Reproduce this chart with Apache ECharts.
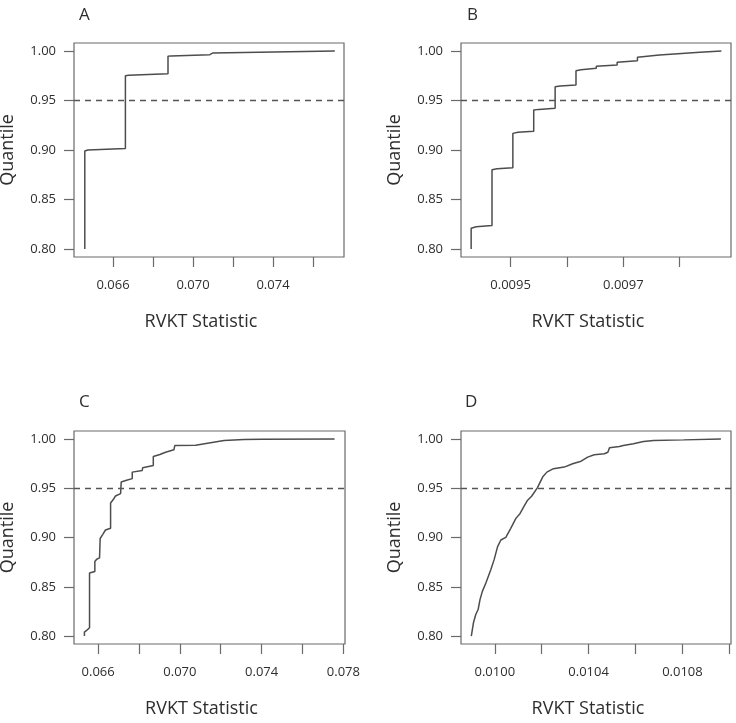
<!DOCTYPE html>
<html>
<head>
<meta charset="utf-8">
<script src="https://cdn.jsdelivr.net/npm/echarts@6/dist/echarts.min.js"></script>
<style>
  html, body { margin: 0; padding: 0; background: #fff; }
  #chart { width: 736px; height: 723px; }
</style>
</head>
<body>
<div id="chart"></div>
<script>
// RVKT statistic (x) against quantile (y), one pair of arrays per panel
const aStat = [0.06459, 0.06459, 0.06475, 0.06662, 0.06662, 0.06678, 0.06875, 0.06875, 0.06891, 0.07084, 0.07084, 0.0710, 0.07709];
const aQuant = [0.800, 0.899, 0.900, 0.9015, 0.975, 0.9755, 0.977, 0.9946, 0.995, 0.9962, 0.998, 0.998, 1.000];

const bStat = [0.00943, 0.00943, 0.009439, 0.009467, 0.009467, 0.009476, 0.009504, 0.009504, 0.009513, 0.009541,
  0.009541, 0.00955, 0.009579, 0.009579, 0.009588, 0.009616, 0.009616, 0.009625, 0.009652, 0.009652,
  0.009689, 0.009689, 0.009725, 0.009725, 0.009764, 0.009764, 0.009836, 0.009836, 0.009874];
const bQuant = [0.800, 0.821, 0.8225, 0.8237, 0.880, 0.881, 0.882, 0.9168, 0.918, 0.919,
  0.9404, 0.941, 0.9421, 0.9638, 0.9645, 0.9655, 0.980, 0.981, 0.9824, 0.9845,
  0.9858, 0.9885, 0.990, 0.9936, 0.9959, 0.997, 0.9987, 0.999, 1.000];

const cStat = [0.06533, 0.06533, 0.06545, 0.06558, 0.06558, 0.06584, 0.06584, 0.06593, 0.06607, 0.0661,
  0.06623, 0.06636, 0.06661, 0.06661, 0.06674, 0.06685, 0.0671, 0.06713, 0.06739, 0.06767,
  0.06767, 0.06816, 0.06818, 0.0687, 0.0687, 0.06902, 0.0693, 0.06971, 0.06975, 0.07077,
  0.07085, 0.07216, 0.07314, 0.0740, 0.07757];
const cQuant = [0.800, 0.804, 0.806, 0.8085, 0.864, 0.8655, 0.8756, 0.878, 0.8793, 0.899,
  0.9032, 0.9076, 0.9093, 0.935, 0.9385, 0.9421, 0.9445, 0.9563, 0.958, 0.9597,
  0.9663, 0.968, 0.9708, 0.973, 0.9822, 0.9842, 0.9865, 0.9889, 0.9932, 0.9935,
  0.995, 0.9983, 0.9993, 0.9997, 1.000];

const dStat = [0.0099, 0.009909, 0.009919, 0.009929, 0.009937, 0.009947, 0.009962, 0.009983, 0.009997, 0.010012,
  0.010026, 0.010047, 0.010068, 0.01009, 0.010108, 0.010125, 0.01014, 0.010157, 0.010182, 0.010204,
  0.010222, 0.01025, 0.010296, 0.010332, 0.010368, 0.010396, 0.010424, 0.010467, 0.010482, 0.010489,
  0.010531, 0.010548, 0.010591, 0.010634, 0.010677, 0.010805, 0.010964];
const dQuant = [0.800, 0.8135, 0.8219, 0.827, 0.837, 0.8454, 0.8538, 0.8672, 0.8773, 0.8907,
  0.8975, 0.9002, 0.9093, 0.9194, 0.9244, 0.9318, 0.9378, 0.9418, 0.9506, 0.9613,
  0.9663, 0.9698, 0.9714, 0.9748, 0.9774, 0.9815, 0.9839, 0.9849, 0.9865, 0.9909,
  0.9922, 0.9932, 0.995, 0.9973, 0.9983, 0.999, 1.000];

// ticks and labelled ticks
const aTicks = [0.066, 0.068, 0.070, 0.072, 0.074, 0.076];
const aLabels = [0.066, 0.070, 0.074];
const bTicks = [0.0095, 0.0096, 0.0097, 0.0098];
const bLabels = [0.0095, 0.0097];
const cTicks = [0.066, 0.068, 0.070, 0.072, 0.074, 0.076, 0.078];
const cLabels = [0.066, 0.070, 0.074, 0.078];
const dTicks = [0.0100, 0.0102, 0.0104, 0.0106, 0.0108, 0.0110];
const dLabels = [0.0100, 0.0104, 0.0108];
const quantTicks = [0.80, 0.85, 0.90, 0.95, 1.00];
const cutoff = 0.95;

const panelNames = ['A', 'B', 'C', 'D'];

const FONT = '"Open Sans", "DejaVu Sans", sans-serif';
const TEXT = '#2e2e2e';
const BOX = '#6a6a6a';
const LINE = '#4d4d4d';

const panels = [
  { stat: aStat, q: aQuant, ticks: aTicks, labels: aLabels, digits: 3, min: 0.06405, max: 0.07755,
    grid: { left: 74, top: 43, width: 270, height: 214 }, title: { left: 79, top: 7 } },
  { stat: bStat, q: bQuant, ticks: bTicks, labels: bLabels, digits: 4, min: 0.009412, max: 0.009891,
    grid: { left: 461, top: 43, width: 270, height: 214 }, title: { left: 467, top: 7 } },
  { stat: cStat, q: cQuant, ticks: cTicks, labels: cLabels, digits: 3, min: 0.06482, max: 0.07808,
    grid: { left: 74, top: 431, width: 271, height: 213 }, title: { left: 79, top: 394 } },
  { stat: dStat, q: dQuant, ticks: dTicks, labels: dLabels, digits: 4, min: 0.009856, max: 0.011007,
    grid: { left: 461, top: 431, width: 270, height: 213 }, title: { left: 465, top: 394 } }
];

const chart = echarts.init(document.getElementById('chart'), null, { renderer: 'canvas' });

const option = {
  animation: false,
  backgroundColor: '#fff',
  title: panels.map((p, i) => ({
    text: panelNames[i],
    left: p.title.left,
    top: p.title.top,
    padding: 0,
    textStyle: { fontFamily: FONT, fontSize: 17, fontWeight: 'normal', color: TEXT }
  })),
  grid: panels.map((p) => Object.assign({
    show: true,
    borderColor: BOX,
    borderWidth: 1.2,
    backgroundColor: 'transparent',
    containLabel: false,
    outerBoundsMode: 'none'
  }, p.grid)),
  xAxis: panels.map((p, i) => ({
    type: 'value',
    gridIndex: i,
    min: p.min,
    max: p.max,
    name: 'RVKT Statistic',
    nameLocation: 'middle',
    nameGap: 56,
    nameTextStyle: { fontFamily: FONT, fontSize: 18, color: TEXT, padding: [0, 16, 0, 0] },
    splitLine: { show: false },
    axisLine: { show: false },
    axisTick: { show: true, inside: false, length: 10, customValues: p.ticks,
      lineStyle: { color: BOX, width: 1.2 } },
    axisLabel: { show: true, margin: 22, customValues: p.labels,
      fontFamily: FONT, fontSize: 13, color: TEXT,
      formatter: (v) => Number(v).toFixed(p.digits) }
  })),
  yAxis: panels.map((p, i) => ({
    type: 'value',
    gridIndex: i,
    min: 0.792,
    max: 1.008,
    name: 'Quantile',
    nameLocation: 'middle',
    nameGap: 57,
    nameTextStyle: { fontFamily: FONT, fontSize: 18, color: TEXT },
    splitLine: { show: false },
    axisLine: { show: false },
    axisTick: { show: true, inside: false, length: 10, customValues: quantTicks,
      lineStyle: { color: BOX, width: 1.2 } },
    axisLabel: { show: true, margin: 18, customValues: quantTicks,
      fontFamily: FONT, fontSize: 13, color: TEXT,
      formatter: (v) => Number(v).toFixed(2) }
  })),
  series: panels.map((p, i) => ({
    type: 'line',
    xAxisIndex: i,
    yAxisIndex: i,
    data: p.stat.map((x, k) => [x, p.q[k]]),
    showSymbol: false,
    symbol: 'none',
    lineStyle: { color: LINE, width: 1.5 },
    silent: true,
    markLine: {
      silent: true,
      symbol: ['none', 'none'],
      label: { show: false },
      lineStyle: { color: '#555', width: 1.3, type: [6, 5] },
      data: [{ yAxis: cutoff }]
    }
  }))
};

chart.setOption(option);
</script>
</body>
</html>
